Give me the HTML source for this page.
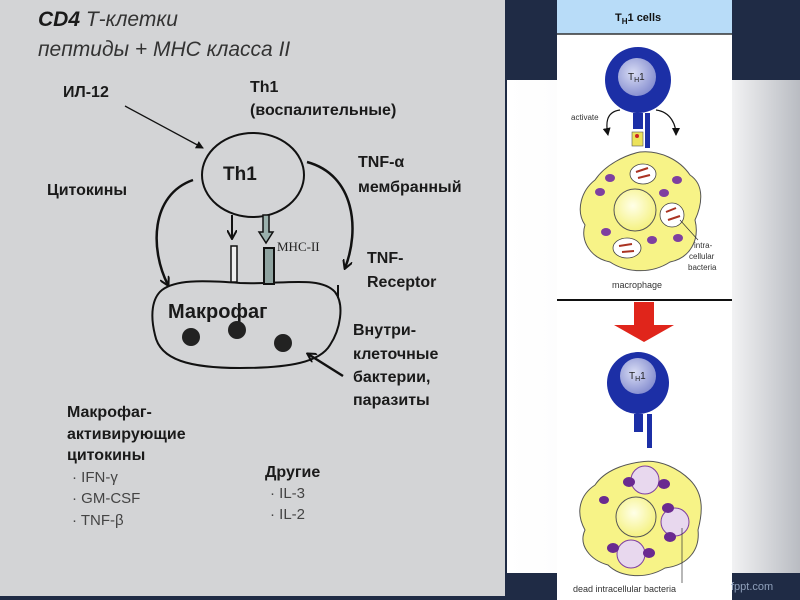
<!DOCTYPE html>
<html><head><meta charset="utf-8"><style>
html,body{margin:0;padding:0;width:800px;height:600px;overflow:hidden;background:#1f2b45;}
svg{display:block}
</style></head><body>
<svg width="800" height="600" viewBox="0 0 800 600" xmlns="http://www.w3.org/2000/svg">
<defs>
<linearGradient id="wg" x1="0" x2="1" y1="0" y2="0">
<stop offset="0" stop-color="#ffffff"/><stop offset="0.75" stop-color="#f6f6f7"/><stop offset="1" stop-color="#b9bcc2"/></linearGradient>
<radialGradient id="nuc" cx="0.4" cy="0.4" r="0.7"><stop offset="0" stop-color="#d8dcf4"/><stop offset="1" stop-color="#7d86cc"/></radialGradient>
<radialGradient id="yn" cx="0.45" cy="0.4" r="0.7"><stop offset="0" stop-color="#ffffe8"/><stop offset="1" stop-color="#f3ef70"/></radialGradient>
<marker id="ah" markerWidth="10" markerHeight="10" refX="8" refY="5" orient="auto" markerUnits="userSpaceOnUse"><path d="M0,0 L9,5 L0,10" fill="none" stroke="#111" stroke-width="2"/></marker>
<marker id="ahs" markerWidth="8" markerHeight="8" refX="7" refY="4" orient="auto" markerUnits="userSpaceOnUse"><path d="M0,0 L8,4 L0,8 z" fill="#111"/></marker>
</defs>
<!-- right background -->
<rect x="505" y="0" width="295" height="600" fill="#1f2b45"/>
<rect x="507" y="80" width="293" height="493" fill="url(#wg)"/>
<!-- left gray -->
<rect x="0" y="0" width="505" height="596" fill="#d3d4d6"/>
<g font-family="Liberation Sans, DejaVu Sans, sans-serif" fill="#1a1a1a">
<text x="38" y="26" font-size="21"><tspan font-weight="bold" font-style="italic">CD4</tspan><tspan font-style="italic" fill="#333"> Т-клетки</tspan></text>
<text x="38" y="56" font-size="21" font-style="italic" fill="#333">пептиды + МНС класса II</text>
<g font-weight="bold" font-size="16">
<text x="63" y="97">ИЛ-12</text>
<text x="250" y="92">Th1</text>
<text x="250" y="115">(воспалительные)</text>
<text x="47" y="195">Цитокины</text>
<text x="358" y="167">TNF-α</text>
<text x="358" y="192">мембранный</text>
<text x="367" y="263">TNF-</text>
<text x="367" y="287">Receptor</text>
<text x="353" y="335">Внутри-</text>
<text x="353" y="359">клеточные</text>
<text x="353" y="382">бактерии,</text>
<text x="353" y="405">паразиты</text>
<text x="67" y="417">Макрофаг-</text>
<text x="67" y="439">активирующие</text>
<text x="67" y="460">цитокины</text>
<text x="265" y="477">Другие</text>
<text x="223" y="180" font-size="19">Th1</text>
<text x="168" y="318" font-size="20">Макрофаг</text>
</g>
<g font-size="15" fill="#444">
<text x="72" y="482">·  IFN-γ</text>
<text x="72" y="503">·  GM-CSF</text>
<text x="72" y="525">·  TNF-β</text>
<text x="270" y="498">·  IL-3</text>
<text x="270" y="519">·  IL-2</text>
</g>
<text x="277" y="251" font-family="Liberation Serif, serif" font-size="13" fill="#222">MHC-II</text>
</g>
<!-- diagram lines -->
<g stroke="#111" fill="none" stroke-width="2">
<ellipse cx="253" cy="175" rx="51" ry="42"/>
<line x1="125" y1="106" x2="203" y2="148" stroke-width="1.3" marker-end="url(#ahs)"/>
<path d="M193,180 C150,195 150,250 168,285" stroke-width="2.5" marker-end="url(#ah)"/>
<path d="M307,162 C355,175 360,230 345,268" stroke-width="2.5" marker-end="url(#ah)"/>
<path d="M162,290 C175,280 200,280 240,283 C280,285 320,275 335,292 C345,305 340,330 330,345 C320,362 290,368 240,368 C190,368 160,360 155,335 C150,315 152,298 162,290 Z"/>
<line x1="232" y1="215" x2="232" y2="238" marker-end="url(#ah)"/>
<line x1="343" y1="376" x2="308" y2="354" stroke-width="2.5" marker-end="url(#ah)"/>
<line x1="338" y1="285" x2="338" y2="298"/>
</g>
<rect x="231" y="246" width="6" height="36" fill="#eee" stroke="#111" stroke-width="1.5"/>
<rect x="264" y="248" width="10" height="36" fill="#8fa3a0" stroke="#111" stroke-width="2"/>
<path d="M263,215 L263,232 L259,232 L266,243 L273,232 L269,232 L269,215 Z" fill="#9ab0ac" stroke="#111" stroke-width="1.5"/>
<circle cx="191" cy="337" r="9" fill="#222"/><circle cx="237" cy="330" r="9" fill="#222"/><circle cx="283" cy="343" r="9" fill="#222"/>
<!-- white panel -->
<rect x="557" y="0" width="175" height="600" fill="#fff"/>
<rect x="557" y="0" width="175" height="34" fill="#b8dcf8"/>
<line x1="557" y1="34" x2="732" y2="34" stroke="#333" stroke-width="1.5"/>
<text x="615" y="21" font-family="Liberation Sans, sans-serif" font-size="11" font-weight="bold" fill="#111">T<tspan font-size="8" dy="3">H</tspan><tspan dy="-3">1  cells</tspan></text>
<line x1="557" y1="300" x2="732" y2="300" stroke="#111" stroke-width="2"/>
<!-- top Th1 -->
<circle cx="638" cy="80" r="33" fill="#1c2fa6"/>
<circle cx="637" cy="77" r="19" fill="url(#nuc)"/>
<text x="628" y="80" font-family="Liberation Sans, sans-serif" font-size="10" fill="#222">T<tspan font-size="7" dy="2">H</tspan><tspan dy="-2">1</tspan></text>
<rect x="633" y="113" width="10" height="16" fill="#1c2fa6"/>
<rect x="645" y="113" width="5" height="35" fill="#1c2fa6"/>
<rect x="632" y="132" width="11" height="14" fill="#ece25a" stroke="#555" stroke-width="0.6"/>
<circle cx="637" cy="136" r="2" fill="#c22"/>
<text x="571" y="120" font-family="Liberation Sans, sans-serif" font-size="8" fill="#333">activate</text>
<path d="M620,110 C605,112 606,125 608,135" stroke="#111" stroke-width="1.2" fill="none" marker-end="url(#ahs)"/>
<path d="M656,110 C671,112 676,125 676,135" stroke="#111" stroke-width="1.2" fill="none" marker-end="url(#ahs)"/>
<!-- top macrophage -->
<path d="M640,152 C660,150 680,160 690,175 C705,185 702,205 695,220 C700,240 690,258 670,262 C650,275 625,272 610,262 C590,258 580,240 585,225 C575,210 582,190 595,180 C605,165 625,155 640,152 Z" fill="#f7f387" stroke="#555" stroke-width="1"/>
<circle cx="635" cy="210" r="21" fill="url(#yn)" stroke="#555" stroke-width="1"/>
<g fill="#fff" stroke="#444" stroke-width="0.8"><ellipse cx="643" cy="174" rx="13" ry="10"/><ellipse cx="672" cy="215" rx="12" ry="12"/><ellipse cx="627" cy="248" rx="14" ry="10"/></g>
<g stroke="#a32" stroke-width="2"><line x1="636" y1="172" x2="648" y2="168"/><line x1="638" y1="178" x2="650" y2="175"/><line x1="666" y1="212" x2="676" y2="208"/><line x1="668" y1="220" x2="680" y2="216"/><line x1="619" y1="246" x2="632" y2="244"/><line x1="622" y1="252" x2="634" y2="251"/></g>
<g fill="#7e3fa0"><ellipse cx="610" cy="178" rx="5" ry="4"/><ellipse cx="600" cy="192" rx="5" ry="4"/><ellipse cx="606" cy="232" rx="5" ry="4"/><ellipse cx="664" cy="193" rx="5" ry="4"/><ellipse cx="677" cy="180" rx="5" ry="4"/><ellipse cx="652" cy="240" rx="5" ry="4"/><ellipse cx="678" cy="238" rx="5" ry="4"/></g>
<line x1="680" y1="220" x2="698" y2="240" stroke="#333" stroke-width="0.7"/>
<g font-family="Liberation Sans, sans-serif" font-size="8" fill="#333"><text x="694" y="248">intra-</text><text x="689" y="259">cellular</text><text x="688" y="270">bacteria</text>
<text x="612" y="288" font-size="9">macrophage</text>
<text x="573" y="592" font-size="9">dead  intracellular  bacteria</text></g>
<!-- red arrow -->
<path d="M634,302 L654,302 L654,325 L674,325 L644,342 L614,325 L634,325 Z" fill="#e0251b"/>
<!-- bottom Th1 -->
<circle cx="638" cy="383" r="31" fill="#1c2fa6"/>
<circle cx="638" cy="376" r="18" fill="url(#nuc)"/>
<text x="629" y="379" font-family="Liberation Sans, sans-serif" font-size="10" fill="#222">T<tspan font-size="7" dy="2">H</tspan><tspan dy="-2">1</tspan></text>
<rect x="634" y="414" width="9" height="18" fill="#1c2fa6"/>
<rect x="647" y="414" width="5" height="34" fill="#1c2fa6"/>
<!-- bottom macrophage -->
<path d="M640,462 C660,458 680,470 690,480 C705,495 702,515 698,530 C700,548 690,565 665,568 C645,580 620,577 608,565 C590,560 578,545 585,530 C575,512 580,495 595,485 C605,470 625,464 640,462 Z" fill="#f7f387" stroke="#555" stroke-width="1"/>
<circle cx="636" cy="517" r="20" fill="url(#yn)" stroke="#555" stroke-width="1"/>
<g fill="#e8d8ee" stroke="#7e3fa0" stroke-width="1"><circle cx="645" cy="480" r="14"/><circle cx="675" cy="522" r="14"/><circle cx="631" cy="554" r="14"/></g>
<g fill="#6a2a90"><ellipse cx="629" cy="482" rx="6" ry="5"/><ellipse cx="664" cy="484" rx="6" ry="5"/><ellipse cx="604" cy="500" rx="5" ry="4"/><ellipse cx="668" cy="508" rx="6" ry="5"/><ellipse cx="670" cy="537" rx="6" ry="5"/><ellipse cx="613" cy="548" rx="6" ry="5"/><ellipse cx="649" cy="553" rx="6" ry="5"/></g>
<line x1="682" y1="528" x2="682" y2="583" stroke="#333" stroke-width="0.7"/>
<text x="731" y="590" font-family="Liberation Sans, sans-serif" font-size="11" fill="#8fa0bb">fppt.com</text>
</svg>
</body></html>
